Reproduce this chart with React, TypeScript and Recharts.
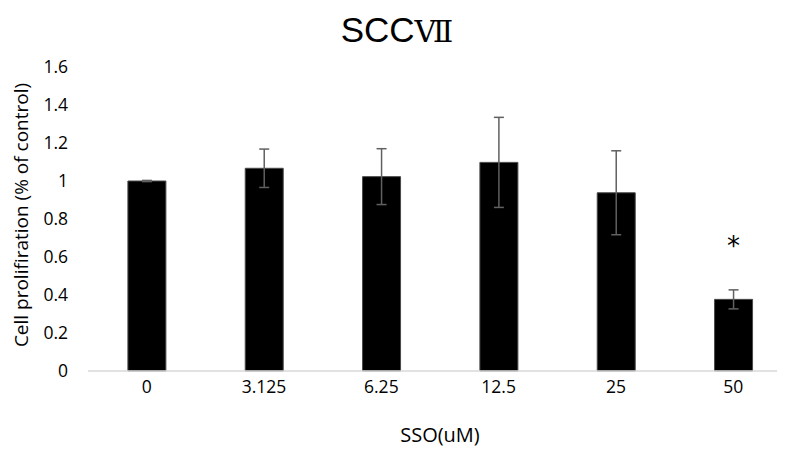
import React from "react";
import { BarChart, Bar, XAxis, YAxis, ErrorBar, LabelList } from "recharts";

const categories = ["0", "3.125", "6.25", "12.5", "25", "50"];
const values = [1.0, 1.067, 1.023, 1.098, 0.938, 0.377];
const errors = [0.003, 0.101, 0.147, 0.237, 0.221, 0.05];
const marks = ["", "", "", "", "", "*"];
const yTicks = [0, 0.2, 0.4, 0.6, 0.8, 1, 1.2, 1.4, 1.6];

const data = categories.map((c, i) => ({ name: c, value: values[i], err: errors[i], mark: marks[i] }));

const FONT = "'Open Sans', 'Liberation Sans', sans-serif";

const StarLabel = (props: any) => {
  const { x, y, width, value } = props;
  if (!value) return null;
  return (
    <text x={x + width / 2} y={y - 53} textAnchor="middle" dominantBaseline="central" fontSize={26} fontFamily="'DejaVu Sans', sans-serif" fill="#000">
      {value}
    </text>
  );
};

const YLabel = () => (
  <text
    x={13}
    y={207}
    transform="rotate(-90 13 207)"
    textAnchor="middle"
    dominantBaseline="central"
    fontSize={19}
    fontFamily={FONT}
    fill="#000"
  >
    Cell prolifiration (% of control)
  </text>
);

export default function App() {
  return (
    <div style={{ position: "relative", width: 777, height: 446, overflow: "hidden" }}>
      <div
        style={{
          position: "absolute",
          left: 0,
          width: 778,
          top: 3,
          textAlign: "center",
          fontFamily: "'Liberation Sans', 'DejaVu Sans', sans-serif",
          fontSize: 35,
          color: "#000",
          lineHeight: "38px",
        }}
      >
        SCC<span style={{ fontFamily: "'DejaVu Serif', serif", fontSize: 30 }}>Ⅶ</span>
      </div>
      <BarChart width={790} height={446} data={data} margin={{ top: 59, right: 6, left: 0, bottom: 10 }} barCategoryGap="34%">
        <XAxis
          dataKey="name"
          axisLine={{ stroke: "#d9d9d9", strokeWidth: 1.5 }}
          tickLine={false}
          tickSize={0}
          tickMargin={9.5}
          height={73}
          tick={{ fill: "#000", fontSize: 17.5, fontFamily: FONT }}
          label={{ value: "SSO(uM)", position: "insideBottom", offset: 2, fill: "#000", fontSize: 20, fontFamily: FONT }}
        />
        <YAxis
          domain={[0, 1.6]}
          ticks={yTicks}
          axisLine={false}
          tickLine={false}
          tickSize={0}
          tickMargin={20}
          width={80}
          interval={0}
          tick={{ fill: "#000", fontSize: 17.5, fontFamily: FONT }}
          label={<YLabel />}
        />
        <Bar dataKey="value" fill="#000" stroke="#4a4a4a" strokeWidth={1} isAnimationActive={false}>
          <ErrorBar dataKey="err" stroke="#606060" strokeWidth={1.5} width={5} direction="y" />
          <LabelList dataKey="mark" content={<StarLabel />} />
        </Bar>
      </BarChart>
    </div>
  );
}
